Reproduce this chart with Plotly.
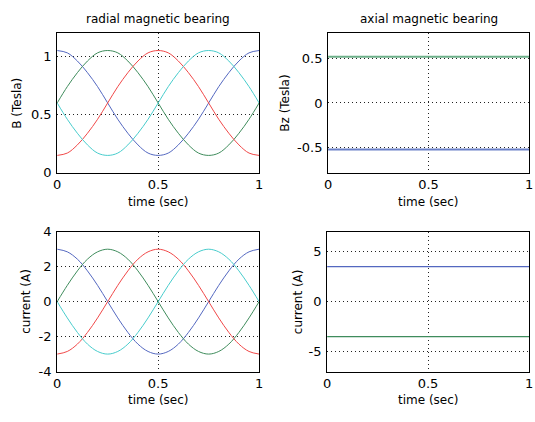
import plotly.graph_objects as go

# time samples (sec)
t = [0.00, 0.05, 0.10, 0.15, 0.20, 0.25, 0.30, 0.35, 0.40, 0.45, 0.50,
     0.55, 0.60, 0.65, 0.70, 0.75, 0.80, 0.85, 0.90, 0.95, 1.00]

# radial bearing flux density per pole (Tesla)
B_blue = [1.05, 1.03, 0.96, 0.86, 0.74, 0.60, 0.46, 0.34, 0.24, 0.17, 0.15,
          0.17, 0.24, 0.34, 0.46, 0.60, 0.74, 0.86, 0.96, 1.03, 1.05]
B_green = [0.60, 0.74, 0.86, 0.96, 1.03, 1.05, 1.03, 0.96, 0.86, 0.74, 0.60,
           0.46, 0.34, 0.24, 0.17, 0.15, 0.17, 0.24, 0.34, 0.46, 0.60]
B_red = [0.15, 0.17, 0.24, 0.34, 0.46, 0.60, 0.74, 0.86, 0.96, 1.03, 1.05,
         1.03, 0.96, 0.86, 0.74, 0.60, 0.46, 0.34, 0.24, 0.17, 0.15]
B_cyan = [0.60, 0.46, 0.34, 0.24, 0.17, 0.15, 0.17, 0.24, 0.34, 0.46, 0.60,
          0.74, 0.86, 0.96, 1.03, 1.05, 1.03, 0.96, 0.86, 0.74, 0.60]

# radial bearing coil currents (A)
I_blue = [3.00, 2.85, 2.43, 1.76, 0.93, 0.00, -0.93, -1.76, -2.43, -2.85, -3.00,
          -2.85, -2.43, -1.76, -0.93, 0.00, 0.93, 1.76, 2.43, 2.85, 3.00]
I_green = [0.00, 0.93, 1.76, 2.43, 2.85, 3.00, 2.85, 2.43, 1.76, 0.93, 0.00,
           -0.93, -1.76, -2.43, -2.85, -3.00, -2.85, -2.43, -1.76, -0.93, 0.00]
I_red = [-3.00, -2.85, -2.43, -1.76, -0.93, 0.00, 0.93, 1.76, 2.43, 2.85, 3.00,
         2.85, 2.43, 1.76, 0.93, 0.00, -0.93, -1.76, -2.43, -2.85, -3.00]
I_cyan = [0.00, -0.93, -1.76, -2.43, -2.85, -3.00, -2.85, -2.43, -1.76, -0.93, 0.00,
          0.93, 1.76, 2.43, 2.85, 3.00, 2.85, 2.43, 1.76, 0.93, 0.00]

# axial bearing (constant over time)
t_ax = [0.0, 1.0]
Bz_green = [0.515, 0.515]
Bz_blue = [-0.52, -0.52]
Iz_blue = [3.5, 3.5]
Iz_green = [-3.5, -3.5]

# tick values / labels
x_ticks = [0, 0.5, 1]
x_labels = ["0", "0.5", "1"]
B_ticks = [0, 0.5, 1]
B_labels = ["0", "0.5", "1"]
Bz_ticks = [-0.5, 0, 0.5]
Bz_labels = ["-0.5", "0", "0.5"]
I_ticks = [-4, -2, 0, 2, 4]
I_labels = ["-4", "-2", "0", "2", "4"]
Iz_ticks = [-5, 0, 5]
Iz_labels = ["-5", "0", "5"]

BLUE = "#5468c0"
GREEN = "#3f8c5c"
RED = "#f04848"
CYAN = "#48cccc"
FONT = "DejaVu Sans"

fig = go.Figure()


def line(x, y, color, ax, width=1.0, shape="spline"):
    fig.add_trace(go.Scatter(
        x=x, y=y, mode="lines", xaxis="x" + ax, yaxis="y" + ax,
        line=dict(color=color, width=width, shape=shape),
        showlegend=False, hoverinfo="skip"))


line(t, B_blue, BLUE, "")
line(t, B_green, GREEN, "")
line(t, B_red, RED, "")
line(t, B_cyan, CYAN, "")

line(t_ax, Bz_green, "#6cae88", "2", width=2, shape="linear")
line(t_ax, Bz_blue, "#6a80c8", "2", width=2, shape="linear")

line(t, I_blue, BLUE, "3")
line(t, I_green, GREEN, "3")
line(t, I_red, RED, "3")
line(t, I_cyan, CYAN, "3")

line(t_ax, Iz_blue, BLUE, "4", width=1.3, shape="linear")
line(t_ax, Iz_green, GREEN, "4", width=1.3, shape="linear")

W, H = 535, 422
# plot boxes in pixels: (left, right, top, bottom)
boxes = {
    "": (54, 259, 27, 172),
    "2": (329, 533, 27, 172),
    "3": (54, 259, 233, 378),
    "4": (328, 533, 233, 378),
}

common = dict(
    showgrid=True, gridcolor="#222222", griddash="1px,3px", gridwidth=1,
    showline=True, linecolor="black", linewidth=1, mirror=True,
    zeroline=False, ticks="", tickfont=dict(family=FONT, size=13, color="black"),
    tickmode="array", fixedrange=True, ticklabeloverflow="allow",
)

yspec = {
    "": ([0, 1.2], B_ticks, B_labels),
    "2": ([-0.78, 0.78], Bz_ticks, Bz_labels),
    "3": ([-4, 4], I_ticks, I_labels),
    "4": ([-7, 7], Iz_ticks, Iz_labels),
}

layout = {}
for ax, (l, r, tp, bt) in boxes.items():
    xname = "xaxis" + ax
    yname = "yaxis" + ax
    layout[xname] = dict(common, domain=[l / W, r / W], range=[0, 1],
                         tickvals=x_ticks, ticktext=x_labels,
                         anchor="y" + ax)
    rng, tv, tt = yspec[ax]
    layout[yname] = dict(common, domain=[1 - bt / H, 1 - tp / H], range=rng,
                         tickvals=tv, ticktext=tt, anchor="x" + ax,
                         ticklabelstandoff=2)

fig.update_layout(**layout)

annotations = []


def text(s, x, y, angle=0, size=12):
    annotations.append(dict(
        text=s, x=x / W, y=1 - y / H, xref="paper", yref="paper",
        showarrow=False, textangle=angle, xanchor="center", yanchor="middle",
        font=dict(family=FONT, size=size, color="black")))


text("radial magnetic bearing", 156.5, 12)
text("axial magnetic bearing", 431, 12)
text("time (sec)", 156.5, 202)
text("time (sec)", 431, 202)
text("time (sec)", 156.5, 408)
text("time (sec)", 431, 408)
text("B (Tesla)", 13, 99.5, angle=-90)
text("Bz (Tesla)", 285, 99.5, angle=-90)
text("current (A)", 21.5, 305.5, angle=-90)
text("current (A)", 298, 305.5, angle=-90)

fig.update_layout(
    width=W, height=H, margin=dict(l=0, r=0, t=0, b=0),
    paper_bgcolor="white", plot_bgcolor="white",
    annotations=annotations, showlegend=False,
)

fig.write_html("out.html", config={"displayModeBar": False})
